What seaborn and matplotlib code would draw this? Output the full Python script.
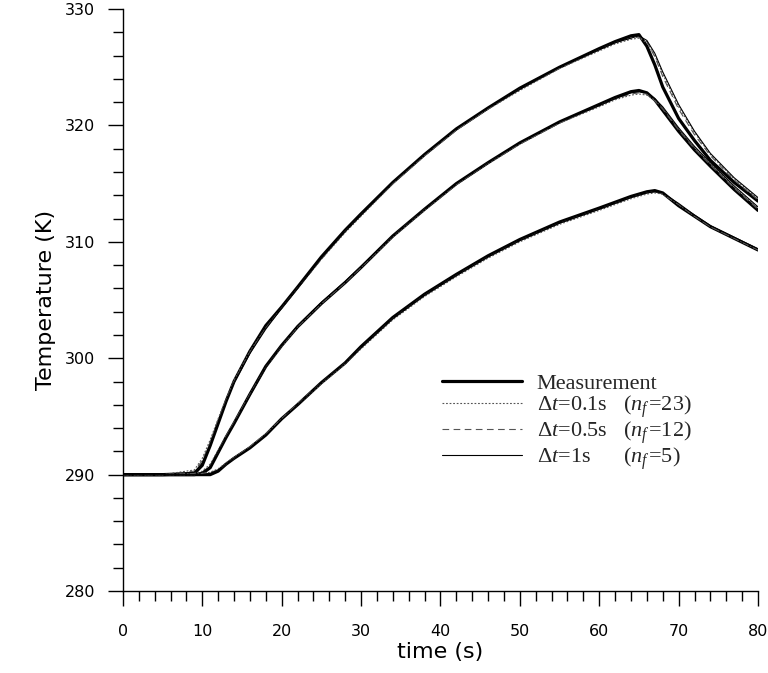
import numpy as np
import pandas as pd
import matplotlib
matplotlib.use("Agg")
import matplotlib.pyplot as plt
import seaborn as sns

# ---------------- data ----------------
time_s = [0, 5, 9, 10, 11, 12, 13, 14, 16, 18, 20, 22, 25, 28, 30, 34, 38, 42,
          46, 50, 55, 60, 62, 64, 65, 66, 67, 68, 70, 72, 74, 77, 80]

# sensor 1 (upper curve)
meas_1 = [290.0, 290.0, 290.1, 290.8, 292.5, 294.4, 296.3, 298.0, 300.6, 302.8, 304.4, 306.1,
          308.7, 311.0, 312.4, 315.1, 317.5, 319.7, 321.5, 323.2, 325.0, 326.6, 327.2, 327.7,
          327.8, 326.8, 325.2, 323.3, 320.6, 318.7, 317.0, 315.1, 313.5]
sim01_1 = [290.0, 290.0, 290.4, 291.4, 293.0, 294.8, 296.5, 298.1, 300.6, 302.6, 304.3, 306.0,
           308.5, 310.8, 312.2, 315.0, 317.4, 319.6, 321.4, 323.0, 324.9, 326.4, 327.0, 327.4,
           327.5, 327.1, 326.0, 324.4, 321.6, 319.4, 317.5, 315.4, 313.7]
sim05_1 = [290.0, 290.0, 290.3, 291.2, 292.8, 294.7, 296.4, 298.0, 300.5, 302.6, 304.3, 306.0,
           308.5, 310.9, 312.3, 315.0, 317.4, 319.6, 321.4, 323.1, 324.9, 326.5, 327.1, 327.5,
           327.6, 327.2, 325.9, 324.2, 321.4, 319.2, 317.4, 315.3, 313.6]
sim1_1 = [290.0, 290.0, 290.2, 291.0, 292.6, 294.5, 296.3, 297.9, 300.4, 302.5, 304.3, 306.0,
          308.6, 310.9, 312.3, 315.1, 317.5, 319.7, 321.5, 323.1, 325.0, 326.5, 327.1, 327.5,
          327.7, 327.3, 326.2, 324.6, 321.8, 319.5, 317.6, 315.5, 313.8]

# sensor 2 (middle curve)
meas_2 = [290.0, 290.0, 290.0, 290.1, 290.6, 291.9, 293.2, 294.4, 296.9, 299.3, 301.1, 302.7,
          304.7, 306.5, 307.8, 310.5, 312.8, 315.0, 316.8, 318.5, 320.3, 321.8, 322.4, 322.9,
          323.0, 322.8, 322.2, 321.3, 319.5, 317.9, 316.5, 314.5, 312.7]
sim01_2 = [290.0, 290.0, 290.1, 290.3, 290.9, 292.1, 293.3, 294.5, 296.9, 299.2, 301.0, 302.7,
           304.7, 306.5, 307.8, 310.4, 312.7, 314.9, 316.7, 318.4, 320.2, 321.6, 322.2, 322.6,
           322.7, 322.6, 322.2, 321.5, 319.7, 318.1, 316.7, 314.7, 312.9]
sim05_2 = [290.0, 290.0, 290.1, 290.2, 290.8, 292.0, 293.3, 294.5, 296.9, 299.2, 301.1, 302.7,
           304.7, 306.5, 307.8, 310.5, 312.8, 314.9, 316.8, 318.4, 320.2, 321.7, 322.3, 322.7,
           322.8, 322.7, 322.1, 321.4, 319.6, 318.0, 316.6, 314.6, 312.8]
sim1_2 = [290.0, 290.0, 290.0, 290.2, 290.7, 292.0, 293.2, 294.4, 296.8, 299.2, 301.1, 302.8,
          304.8, 306.6, 307.9, 310.5, 312.8, 315.0, 316.8, 318.5, 320.3, 321.7, 322.3, 322.8,
          322.9, 322.8, 322.3, 321.6, 319.8, 318.2, 316.8, 314.8, 313.0]

# sensor 3 (lower curve)
meas_3 = [290.0, 290.0, 290.0, 290.0, 290.0, 290.3, 290.9, 291.4, 292.3, 293.4, 294.8, 296.0,
          297.9, 299.6, 301.0, 303.5, 305.5, 307.2, 308.8, 310.2, 311.7, 312.9, 313.4, 313.9,
          314.1, 314.3, 314.4, 314.2, 313.1, 312.2, 311.3, 310.3, 309.3]
sim01_3 = [290.0, 290.0, 290.0, 290.1, 290.2, 290.5, 291.0, 291.5, 292.4, 293.5, 294.8, 296.0,
           297.8, 299.5, 300.8, 303.3, 305.3, 307.0, 308.6, 310.0, 311.5, 312.7, 313.2, 313.7,
           313.9, 314.1, 314.2, 314.1, 313.2, 312.2, 311.3, 310.3, 309.3]
sim05_3 = [290.0, 290.0, 290.0, 290.1, 290.2, 290.4, 290.9, 291.4, 292.4, 293.5, 294.8, 296.1,
           297.9, 299.6, 300.9, 303.4, 305.4, 307.1, 308.7, 310.1, 311.6, 312.8, 313.3, 313.8,
           314.0, 314.2, 314.3, 314.1, 313.2, 312.2, 311.3, 310.3, 309.3]
sim1_3 = [290.0, 290.0, 290.0, 290.0, 290.1, 290.4, 290.9, 291.4, 292.3, 293.4, 294.7, 296.0,
          297.9, 299.6, 300.9, 303.4, 305.4, 307.1, 308.7, 310.1, 311.6, 312.8, 313.3, 313.8,
          314.0, 314.2, 314.3, 314.2, 313.3, 312.3, 311.4, 310.4, 309.4]

legend_labels = ["Measurement",
                 "Δ$t$=0.1s   ($n_f$\u200a=23)",
                 "Δ$t$=0.5s   ($n_f$\u200a=12)",
                 "Δ$t$=1s      ($n_f$\u200a=5)"]

x_ticks = [0, 10, 20, 30, 40, 50, 60, 70, 80]
y_ticks = [280, 290, 300, 310, 320, 330]

# ---------------- plotting ----------------
sns.set_theme(style="ticks")
plt.rcParams["font.family"] = ["DejaVu Sans"]
plt.rcParams["mathtext.fontset"] = "custom"
plt.rcParams["mathtext.rm"] = "Liberation Serif"
plt.rcParams["mathtext.it"] = "Liberation Serif:italic"

fig = plt.figure(figsize=(7.68, 6.73), dpi=100)
ax = fig.add_axes([0.160, 0.1218, 0.827, 0.8648])

meas = [meas_1, meas_2, meas_3]
s01 = [sim01_1, sim01_2, sim01_3]
s05 = [sim05_1, sim05_2, sim05_3]
s1 = [sim1_1, sim1_2, sim1_3]

for i in range(3):
    sns.lineplot(x=time_s, y=meas[i], ax=ax, color="black", linewidth=2.3,
                 label=legend_labels[0] if i == 0 else None)
for i in range(3):
    sns.lineplot(x=time_s, y=s01[i], ax=ax, color="#555555", linewidth=0.8,
                 linestyle=(0, (1.6, 1.6)), label=legend_labels[1] if i == 0 else None)
    sns.lineplot(x=time_s, y=s05[i], ax=ax, color="#555555", linewidth=0.8,
                 linestyle=(0, (6, 4)), label=legend_labels[2] if i == 0 else None)
    sns.lineplot(x=time_s, y=s1[i], ax=ax, color="black", linewidth=0.8,
                 linestyle="-", label=legend_labels[3] if i == 0 else None)

ax.set_xlim(0, 80)
ax.set_ylim(280, 330)
ax.set_xticks(x_ticks)
ax.set_yticks(y_ticks)
ax.set_xticks(np.arange(0, 81, 2), minor=True)
ax.set_yticks(np.arange(280, 331, 2), minor=True)
ax.tick_params(axis="both", which="major", length=11, width=1.0, color="black",
               labelsize=11.5, labelcolor="black")
ax.tick_params(axis="both", which="minor", length=7.2, width=1.0, color="black")
ax.tick_params(axis="x", which="major", pad=13)
ax.tick_params(axis="y", which="major", pad=9)

for s in ["top", "right"]:
    ax.spines[s].set_visible(False)
for s in ["left", "bottom"]:
    ax.spines[s].set_color("black")
    ax.spines[s].set_linewidth(1.0)

ax.set_xlabel("time (s)", fontsize=16, color="black", labelpad=2)
ax.set_ylabel("Temperature (K)", fontsize=16, color="black", labelpad=6)

leg = ax.legend(loc="upper left", bbox_to_anchor=(0.502, 0.3746), frameon=False,
                borderpad=0, borderaxespad=0, handlelength=3.6, handletextpad=0.68,
                labelspacing=-0.02, prop={"family": "Liberation Serif", "size": 16})

fig.savefig("out.png", dpi=100)
